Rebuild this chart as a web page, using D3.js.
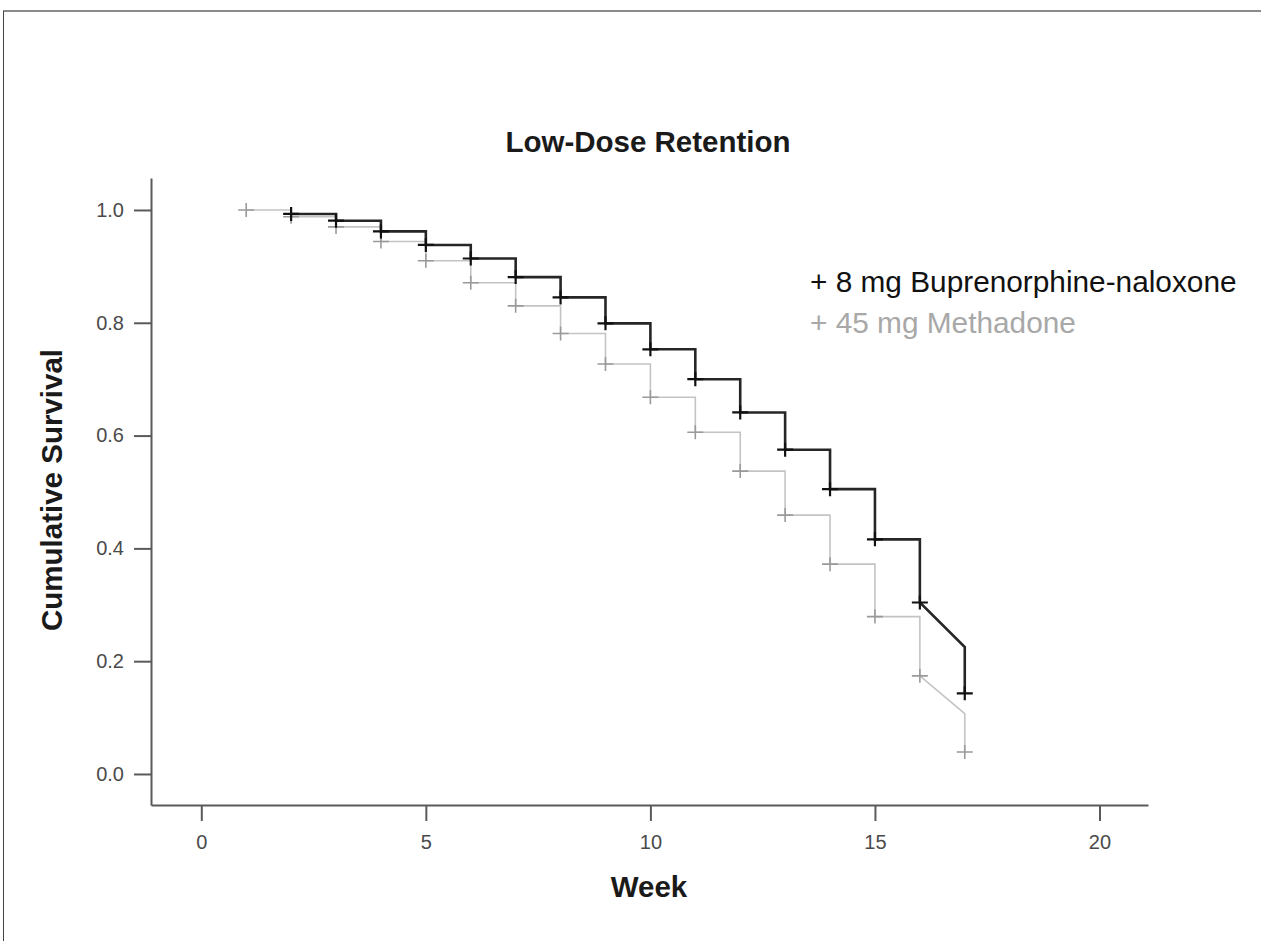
<!DOCTYPE html>
<html>
<head>
<meta charset="utf-8">
<script src="https://cdn.jsdelivr.net/npm/d3@7"></script>
<style>
    body { margin: 0; background: #fff; }
    text { font-family: "Liberation Sans", Arial, sans-serif; }
</style>
</head>
<body>
<div id="chart"></div>
<script>
// weeks and cumulative survival
var bupWeeks = [2, 3, 4, 5, 6, 7, 8, 9, 10, 11, 12, 13, 14, 15, 16, 17];
var bupSurvival = [0.993, 0.981, 0.962, 0.938, 0.914, 0.881, 0.845, 0.799, 0.753, 0.700, 0.641, 0.575, 0.505, 0.416, 0.304, 0.143];
var bupLastSlope = 0.225; // level reached at week 17 before the final drop

var metWeeks = [1, 2, 3, 4, 5, 6, 7, 8, 9, 10, 11, 12, 13, 14, 15, 16, 17];
var metSurvival = [1.0, 0.988, 0.970, 0.944, 0.910, 0.871, 0.830, 0.781, 0.727, 0.668, 0.606, 0.537, 0.459, 0.372, 0.279, 0.174, 0.039];
var metLastSlope = 0.107;

var xTicks = [0, 5, 10, 15, 20];
var yTicks = [0.0, 0.2, 0.4, 0.6, 0.8, 1.0];

var legendLabels = ["+ 8 mg Buprenorphine-naloxone", "+ 45 mg Methadone"];

function drawChart() {
    ///////////////////////////////////////////////////////////////////////////
    //////////////////////////// Set up the svg ///////////////////////////////
    ///////////////////////////////////////////////////////////////////////////

    var width = 1261,
        height = 941;

    var svg = d3.select("#chart")
        .append("svg")
        .attr("width", width)
        .attr("height", height);

    //frame lines seen at the top and left of the picture
    svg.append("line")
        .attr("x1", 3).attr("x2", width)
        .attr("y1", 11).attr("y2", 11)
        .style("stroke", "#8a8a8a")
        .style("stroke-width", 2);
    svg.append("line")
        .attr("x1", 3.5).attr("x2", 3.5)
        .attr("y1", 11).attr("y2", height)
        .style("stroke", "#444")
        .style("stroke-width", 1);

    //plot area
    var left = 151, right = 1148, top = 178, bottom = 805;

    var x = d3.scaleLinear()
        .domain([-1.12, 21.08])
        .range([left, right]);

    var y = d3.scaleLinear()
        .domain([-0.0550, 1.0567])
        .range([bottom, top]);

    ///////////////////////////////////////////////////////////////////////////
    ///////////////////////////////// Axes ////////////////////////////////////
    ///////////////////////////////////////////////////////////////////////////

    var xAxis = svg.append("g")
        .attr("transform", "translate(0," + bottom + ")")
        .call(d3.axisBottom(x).tickValues(xTicks).tickSize(16).tickSizeOuter(0).tickPadding(14));

    var yAxis = svg.append("g")
        .attr("transform", "translate(" + left + ",0)")
        .call(d3.axisLeft(y).tickValues(yTicks).tickFormat(d3.format(".1f")).tickSize(17).tickSizeOuter(0).tickPadding(10));

    [xAxis, yAxis].forEach(function(ax) {
        ax.select(".domain").style("stroke", "#5a5a5a").style("stroke-width", 2);
        ax.selectAll(".tick line").style("stroke", "#5a5a5a").style("stroke-width", 2);
        ax.selectAll(".tick text")
            .style("font-family", "'Liberation Sans', Arial, sans-serif")
            .style("font-size", "20px")
            .style("fill", "#4a4a4a");
    });

    //axis titles
    svg.append("text")
        .attr("x", 648)
        .attr("y", 152)
        .attr("text-anchor", "middle")
        .style("font-size", "29.5px")
        .style("font-weight", "bold")
        .style("fill", "#1a1a1a")
        .text("Low-Dose Retention");

    svg.append("text")
        .attr("x", 649)
        .attr("y", 897)
        .attr("text-anchor", "middle")
        .style("font-size", "29.5px")
        .style("font-weight", "bold")
        .style("fill", "#1a1a1a")
        .text("Week");

    svg.append("text")
        .attr("transform", "translate(62,490) rotate(-90)")
        .attr("text-anchor", "middle")
        .style("font-size", "29.5px")
        .style("font-weight", "bold")
        .style("fill", "#1a1a1a")
        .text("Cumulative Survival");

    ///////////////////////////////////////////////////////////////////////////
    ///////////////////////// Kaplan-Meier style curves ///////////////////////
    ///////////////////////////////////////////////////////////////////////////

    //build the step vertices; last interval slopes then drops
    function kmPoints(weeks, surv, lastSlope) {
        var pts = [[weeks[0], surv[0]]];
        for (var i = 1; i < weeks.length; i++) {
            if (i === weeks.length - 1) {
                pts.push([weeks[i], lastSlope]);
            } else {
                pts.push([weeks[i], surv[i - 1]]);
            }
            pts.push([weeks[i], surv[i]]);
        }
        return pts;
    }

    var line = d3.line()
        .x(function(d) { return x(d[0]); })
        .y(function(d) { return y(d[1]); });

    var series = [
        {weeks: metWeeks, surv: metSurvival, slope: metLastSlope, lineColor: "#c4c4c4", lineWidth: 1.6, markColor: "#9a9a9a", markWidth: 1.6},
        {weeks: bupWeeks, surv: bupSurvival, slope: bupLastSlope, lineColor: "#262626", lineWidth: 2.6, markColor: "#111", markWidth: 2.2}
    ];

    series.forEach(function(s) {
        svg.append("path")
            .datum(kmPoints(s.weeks, s.surv, s.slope))
            .attr("d", line)
            .style("fill", "none")
            .style("stroke", s.lineColor)
            .style("stroke-width", s.lineWidth);

        //censor marks at every week
        svg.append("g").selectAll("path")
            .data(s.weeks.map(function(w, i) { return [w, s.surv[i]]; }))
            .enter().append("path")
            .attr("d", function(d) {
                var cx = x(d[0]), cy = y(d[1]);
                return "M" + (cx - 8) + "," + cy + "H" + (cx + 8) + "M" + cx + "," + (cy - 7) + "V" + (cy + 7);
            })
            .style("fill", "none")
            .style("stroke", s.markColor)
            .style("stroke-width", s.markWidth);
    });

    ///////////////////////////////////////////////////////////////////////////
    //////////////////////////////// Legend ///////////////////////////////////
    ///////////////////////////////////////////////////////////////////////////

    var legendColors = ["#111", "#a8a8a8"];

    svg.selectAll(".legendText")
        .data(legendLabels)
        .enter().append("text")
        .attr("class", "legendText")
        .attr("x", 810)
        .attr("y", function(d, i) { return 292 + i * 41; })
        .style("font-size", "29.8px")
        .style("fill", function(d, i) { return legendColors[i]; })
        .text(function(d) { return d; });
}
drawChart();
</script>
</body>
</html>
